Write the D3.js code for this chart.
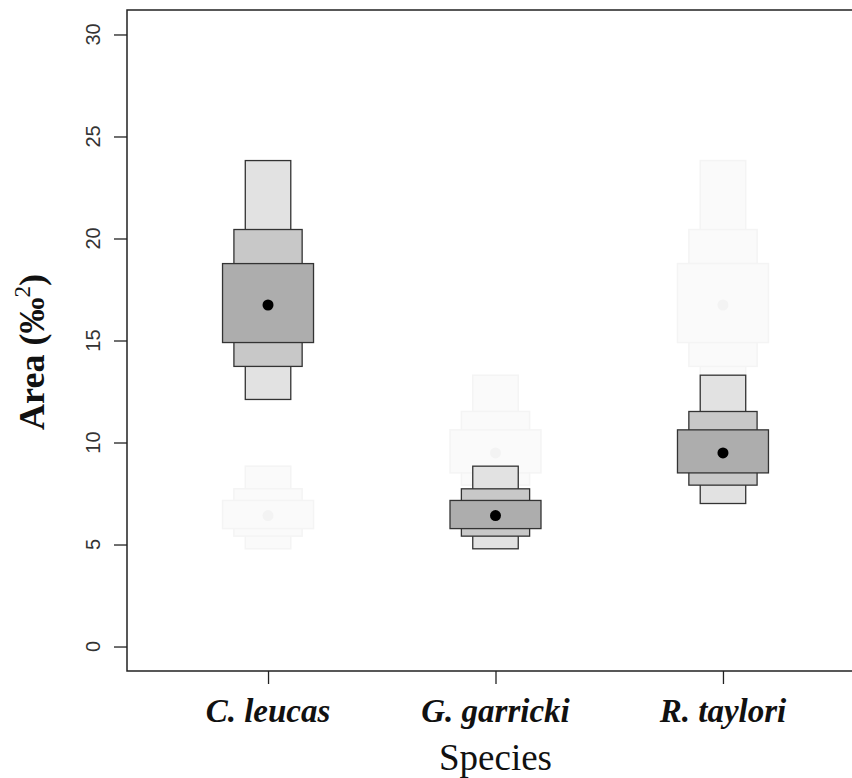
<!DOCTYPE html>
<html lang="en">
<head>
    <meta charset="UTF-8">
    <title>Area by species</title>
    <script src="https://d3js.org/d3.v7.min.js"></script>
    <style>
        body { margin: 0; background: #fff; }
        svg { display: block; }
        .tick-label { font-family: "Liberation Sans", Arial, sans-serif; font-size: 20px; fill: #333; }
        .cat-label { font-family: "Liberation Serif", "Times New Roman", serif; font-size: 33px; font-weight: bold; font-style: italic; fill: #111; }
        .axis-title { font-family: "Liberation Serif", "Times New Roman", serif; fill: #111; }
    </style>
</head>
<body>
<div id="chart"></div>
<script>
    // Species and region bounds
    const species = ["C. leucas", "G. garricki", "R. taylori"];
    const modes = [16.74, 6.42, 9.49];
    const outerLo = [12.11, 4.79, 7.01], outerHi = [23.82, 8.84, 13.30];
    const midLo = [13.73, 5.41, 7.91], midHi = [20.44, 7.73, 11.52];
    const innerLo = [14.90, 5.78, 8.51], innerHi = [18.77, 7.16, 10.62];
    const yTicks = [0, 5, 10, 15, 20, 25, 30];
    // faint copy shown at each position belongs to the next species
    const ghostOf = [1, 2, 0];

    const width = 852, height = 778;
    const svg = d3.select("#chart").append("svg")
        .attr("width", width)
        .attr("height", height);

    const x = d3.scaleLinear().domain([0.38, 3.62]).range([127, 864]);
    const y = d3.scaleLinear().domain([-1.2, 31.2]).range([671, 10]);

    const layers = [
        { lo: outerLo, hi: outerHi, half: 0.1, fill: "#e2e2e2" },
        { lo: midLo, hi: midHi, half: 0.15, fill: "#c8c8c8" },
        { lo: innerLo, hi: innerHi, half: 0.2, fill: "#adadad" }
    ];

    function drawBoxes(g, pos, idx, ghost) {
        layers.forEach(l => {
            g.append("rect")
                .attr("x", x(pos - l.half))
                .attr("width", x(pos + l.half) - x(pos - l.half))
                .attr("y", y(l.hi[idx]))
                .attr("height", y(l.lo[idx]) - y(l.hi[idx]))
                .attr("fill", ghost ? "#fafafa" : l.fill)
                .attr("stroke", ghost ? "#f4f4f4" : "#333")
                .attr("stroke-width", ghost ? 1.5 : 1.3);
        });
        g.append("circle")
            .attr("cx", x(pos))
            .attr("cy", y(modes[idx]))
            .attr("r", 5.5)
            .attr("fill", ghost ? "#f3f3f3" : "#000");
    }

    // ghosts first, then the real boxes on top
    const ghostG = svg.append("g");
    species.forEach((s, i) => drawBoxes(ghostG, i + 1, ghostOf[i], true));
    const boxG = svg.append("g");
    species.forEach((s, i) => drawBoxes(boxG, i + 1, i, false));

    // frame (right edge falls outside the picture)
    svg.append("path")
        .attr("d", `M${width + 20},${y(31.2)}H${x(0.38)}V${y(-1.2)}H${width + 20}`)
        .attr("fill", "none")
        .attr("stroke", "#222")
        .attr("stroke-width", 1.5);

    // y axis
    const yAxis = svg.append("g").attr("transform", `translate(${x(0.38)},0)`)
        .call(d3.axisLeft(y).tickValues(yTicks).tickSize(13).tickFormat(""));
    yAxis.select(".domain").remove();
    yAxis.selectAll(".tick line").attr("stroke", "#222").attr("stroke-width", 1.3);
    svg.append("g").selectAll("text")
        .data(yTicks)
        .join("text")
        .attr("class", "tick-label")
        .attr("transform", d => `translate(100,${y(d)}) rotate(-90)`)
        .attr("text-anchor", "middle")
        .text(d => d);

    // x axis
    const xAxis = svg.append("g").attr("transform", `translate(0,${y(-1.2)})`)
        .call(d3.axisBottom(x).tickValues([1, 2, 3]).tickSize(13).tickFormat(""));
    xAxis.select(".domain").remove();
    xAxis.selectAll(".tick line").attr("stroke", "#222").attr("stroke-width", 1.3);
    svg.append("g").selectAll("text")
        .data(species)
        .join("text")
        .attr("class", "cat-label")
        .attr("x", (d, i) => x(i + 1))
        .attr("y", 722)
        .attr("text-anchor", "middle")
        .text(d => d);

    // axis titles
    svg.append("text")
        .attr("class", "axis-title")
        .attr("x", x(2))
        .attr("y", 770)
        .attr("text-anchor", "middle")
        .attr("font-size", 37)
        .text("Species");

    const yt = svg.append("text")
        .attr("class", "axis-title")
        .attr("transform", "translate(44,352) rotate(-90)")
        .attr("text-anchor", "middle")
        .attr("font-size", 36)
        .attr("font-weight", "bold");
    yt.append("tspan").text("Area (‰");
    yt.append("tspan").attr("font-size", 23).attr("dy", -14).attr("font-weight", "normal").text("2");
    yt.append("tspan").attr("dy", 14).text(")");
</script>
</body>
</html>
